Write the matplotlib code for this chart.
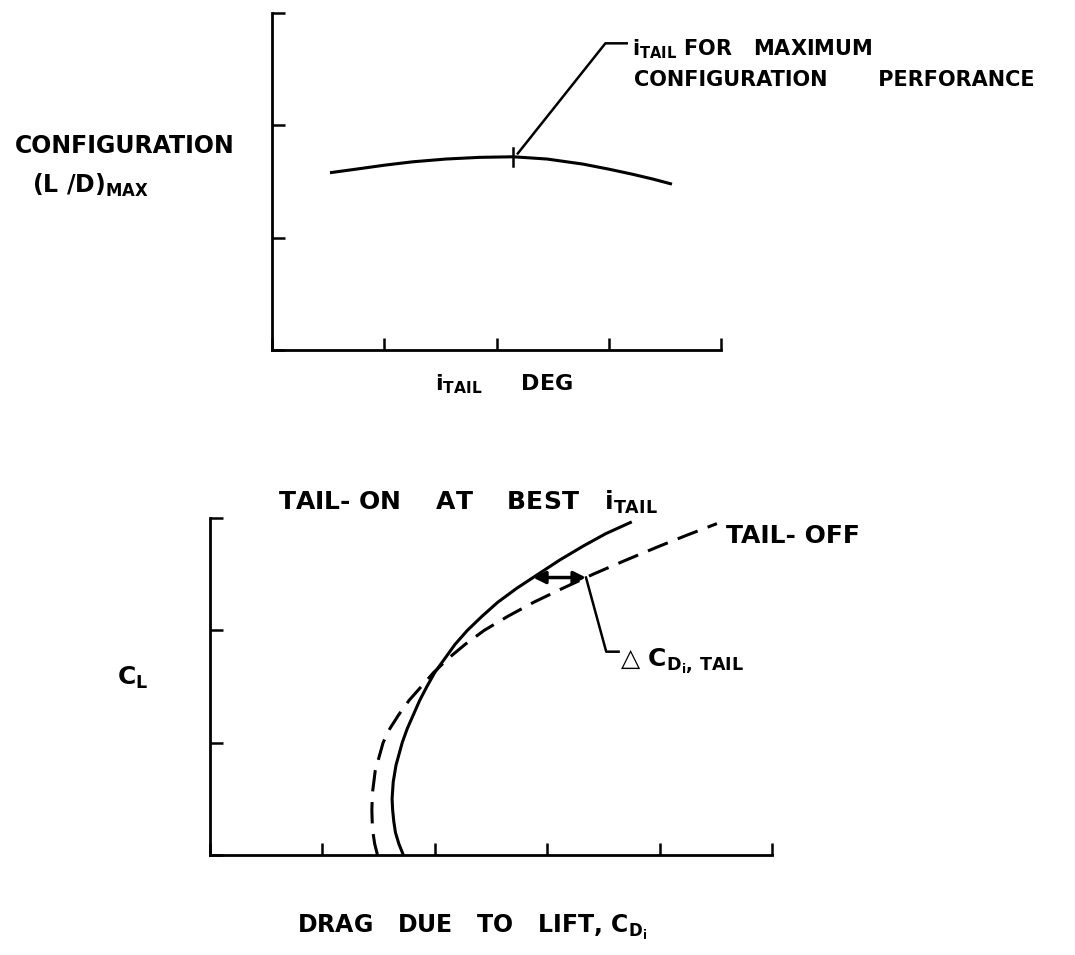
import numpy as np
import matplotlib.pyplot as plt

# top chart: configuration (L/D)max against tail incidence
itail_deg = [0.53, 0.75, 1.00, 1.25, 1.55, 1.85, 2.15, 2.45, 2.77, 3.00, 3.21, 3.40, 3.55]
ld_max = [1.58, 1.61, 1.645, 1.675, 1.70, 1.715, 1.72, 1.70, 1.655, 1.61, 1.565, 1.52, 1.48]

# bottom chart: drag due to lift, tail-on (best i_tail) and tail-off
cl_on = [0.00, 0.10, 0.20, 0.30, 0.40, 0.50, 0.65, 0.80, 1.00, 1.125, 1.25, 1.375, 1.50,
         1.625, 1.75, 1.875, 2.00, 2.125, 2.25, 2.375, 2.50, 2.625, 2.75, 2.86, 2.96]
cdi_on = [1.72, 1.68, 1.65, 1.635, 1.625, 1.62, 1.63, 1.655, 1.71, 1.755, 1.81, 1.865, 1.93,
          2.00, 2.09, 2.18, 2.29, 2.42, 2.56, 2.73, 2.92, 3.11, 3.32, 3.52, 3.74]
cl_off = [0.00, 0.10, 0.20, 0.30, 0.40, 0.55, 0.75, 1.00, 1.125, 1.25, 1.375, 1.50, 1.625,
          1.75, 1.875, 2.00, 2.125, 2.25, 2.375, 2.50, 2.625, 2.75, 2.85, 2.95]
cdi_off = [1.49, 1.465, 1.45, 1.443, 1.44, 1.445, 1.47, 1.54, 1.60, 1.68, 1.77, 1.88, 1.99,
           2.12, 2.27, 2.44, 2.65, 2.88, 3.14, 3.41, 3.70, 4.00, 4.25, 4.51]

delta_cl = 2.47  # lift level where the tail increment is marked

plt.rcParams['font.family'] = ['DejaVu Sans']
plt.rcParams['font.weight'] = 'bold'
plt.rcParams['mathtext.fontset'] = 'custom'
plt.rcParams['mathtext.rm'] = 'DejaVu Sans:bold'
plt.rcParams['mathtext.it'] = 'DejaVu Sans:bold'
plt.rcParams['mathtext.bf'] = 'DejaVu Sans:bold'

W, H = 1075, 955
fig = plt.figure(figsize=(W / 100, H / 100), dpi=100)


def px(x, y):
    return x / W, 1 - y / H


def style_axes(ax, nx, ny):
    ax.set_xlim(0, nx)
    ax.set_ylim(0, ny)
    for s in ['top', 'right']:
        ax.spines[s].set_visible(False)
    for s in ['left', 'bottom']:
        ax.spines[s].set_linewidth(2.0)
    ax.set_xticks(range(nx + 1))
    ax.set_yticks(range(ny + 1))
    ax.tick_params(direction='in', length=9, width=1.8,
                   labelbottom=False, labelleft=False)


# ---- top chart ----
ax1 = fig.add_axes([272 / W, 1 - 350 / H, 449 / W, 337 / H])
style_axes(ax1, 4, 3)
ax1.plot(itail_deg, ld_max, color='black', lw=2.2)
k = int(np.argmax(ld_max))
xb, yb = itail_deg[k], ld_max[k]
ax1.plot([xb, xb], [yb - 0.08, yb + 0.08], color='black', lw=1.8)
ax1.plot([xb + 0.04, 2.97, 3.16], [yb + 0.03, 2.73, 2.73], color='black', lw=1.8,
         clip_on=False)

fig.text(*px(632, 55), r'$\mathrm{i}_{\mathrm{TAIL}}$ FOR   MAXIMUM',
         fontsize=15, fontweight='bold', va='baseline')
fig.text(*px(634, 86), 'CONFIGURATION       PERFORANCE',
         fontsize=15, fontweight='bold', va='baseline')
fig.text(*px(15, 153), 'CONFIGURATION', fontsize=17, fontweight='bold', va='baseline')
fig.text(*px(32, 193), r'(L /D)$_{\mathrm{MAX}}$', fontsize=17, fontweight='bold',
         va='baseline')
fig.text(*px(435, 390), r'$\mathrm{i}_{\mathrm{TAIL}}$     DEG', fontsize=16,
         fontweight='bold', va='baseline')

# ---- bottom chart ----
ax2 = fig.add_axes([210 / W, 1 - 855 / H, 562 / W, 337 / H])
style_axes(ax2, 5, 3)
ax2.plot(cdi_on, cl_on, color='black', lw=2.2)
ax2.plot(cdi_off, cl_off, color='black', lw=2.2, linestyle=(0, (7, 3.5)))

x_on = np.interp(delta_cl, cl_on, cdi_on)
x_off = np.interp(delta_cl, cl_off, cdi_off)
ax2.annotate('', xy=(x_on, delta_cl), xytext=(x_off, delta_cl),
             arrowprops=dict(arrowstyle='<|-|>', color='black', lw=2.5,
                             mutation_scale=18, shrinkA=0, shrinkB=0))
ax2.plot([x_off, x_off + 0.18, x_off + 0.29], [delta_cl, 1.81, 1.81],
         color='black', lw=1.8)

fig.text(*px(278, 510), r'TAIL- ON    AT    BEST   $\mathrm{i}_{\mathrm{TAIL}}$',
         fontsize=18, fontweight='bold', va='baseline')
fig.text(*px(726, 543), 'TAIL- OFF', fontsize=18, fontweight='bold', va='baseline')
fig.text(*px(620, 667), '\u25b3 ' + r'$\mathrm{C}_{\mathrm{D}_{\mathrm{i}},\,\mathrm{TAIL}}$',
         fontsize=18, fontweight='bold', va='baseline')
fig.text(*px(117, 685), r'$\mathrm{C}_{\mathrm{L}}$', fontsize=18, fontweight='bold',
         va='baseline')
fig.text(*px(297, 933), r'DRAG   DUE   TO   LIFT, $\mathrm{C}_{\mathrm{D}_{\mathrm{i}}}$',
         fontsize=17, fontweight='bold', va='baseline')

fig.savefig('out.png', dpi=100)
